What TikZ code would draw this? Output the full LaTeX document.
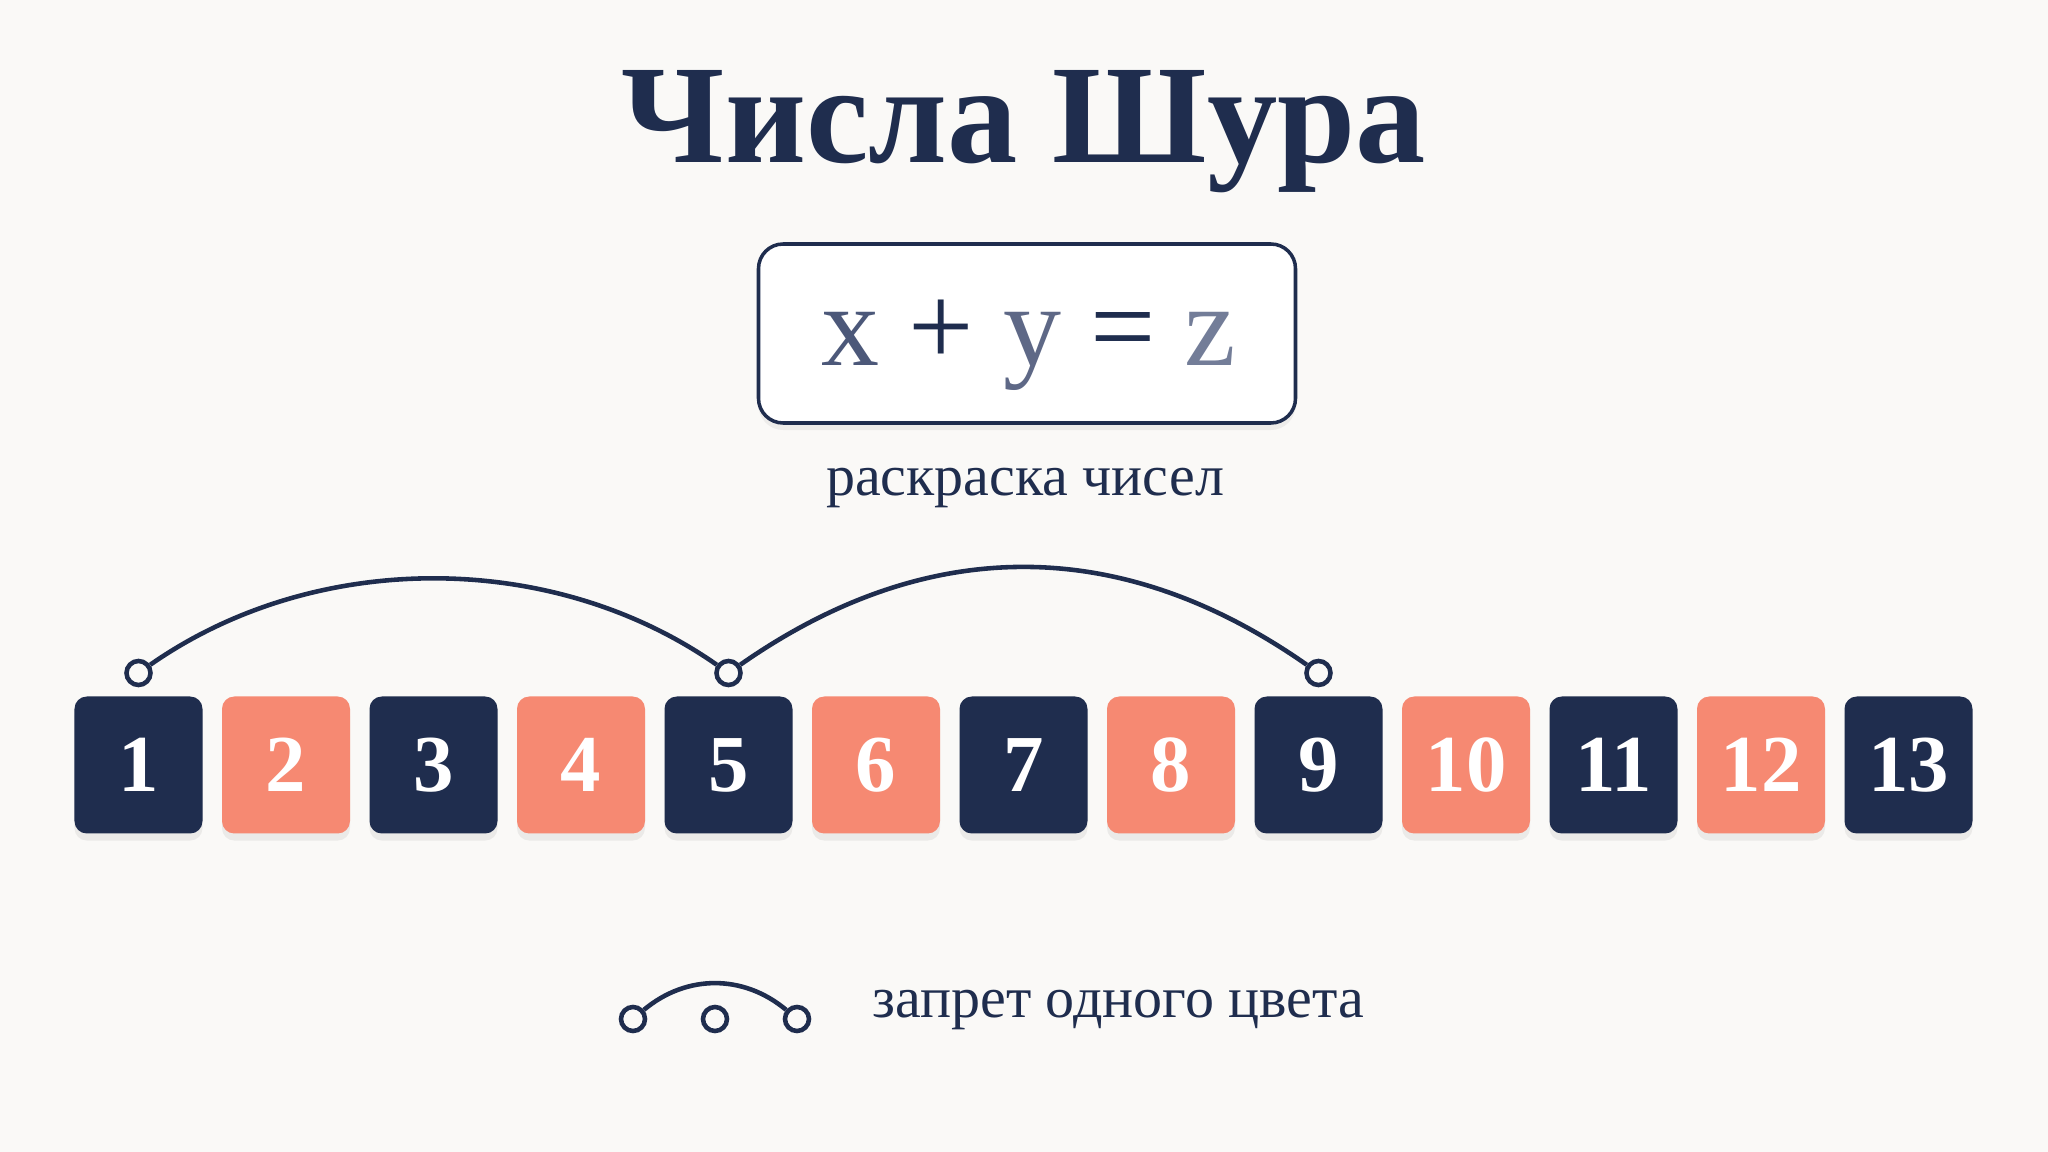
\documentclass[tikz,border=0pt]{standalone}
\usepackage{fontspec}
\setmainfont{Liberation Serif}
\usetikzlibrary{shadows}
\definecolor{navy}{HTML}{1F2D4E}
\definecolor{salmon}{HTML}{F68972}
\definecolor{paper}{HTML}{FAF9F7}
\definecolor{xcol}{HTML}{4C5879}
\definecolor{ycol}{HTML}{5E6886}
\definecolor{zcol}{HTML}{737D98}
\tikzstyle{TitleNode}=[anchor=base, text=navy, font=\fontsize{40}{40}\selectfont\bfseries]
\tikzstyle{EqBox}=[rectangle, draw=navy, line width=1pt, fill=white, rounded corners=7pt, minimum width=5.37cm, minimum height=1.79cm, drop shadow={shadow xshift=0pt, shadow yshift=-2pt, opacity=0.10}]
\tikzstyle{EqText}=[anchor=base, font=\fontsize{33}{33}\selectfont]
\tikzstyle{LabelText}=[text=navy, font=\fontsize{16.5}{16.5}\selectfont]
\tikzstyle{NumBox}=[rectangle, rounded corners=3.5pt, minimum width=1.28cm, minimum height=1.37cm, inner sep=0pt, text=white, font=\fontsize{23}{23}\selectfont\bfseries, drop shadow={shadow xshift=0pt, shadow yshift=-2pt, opacity=0.12}]
\tikzstyle{DarkBox}=[NumBox, fill=navy]
\tikzstyle{SalmonBox}=[NumBox, fill=salmon]
\tikzstyle{DotNode}=[circle, draw=navy, line width=1.3pt, fill=paper, minimum size=0.24cm, inner sep=0pt]
\tikzstyle{ForbidEdge}=[draw=navy, line width=1.3pt]
\begin{document}
\begin{tikzpicture}
\fill[paper] (0,0) rectangle (20.48,-11.52);
\useasboundingbox (0,0) rectangle (20.48,-11.52);

\node[TitleNode](TITLE) at (10.24,-1.63) {Числа Шура};
\node[EqBox](EQBOX) at (10.27,-3.335) {};
\node[EqText](EQ) at (10.29,-3.66) {\textcolor{xcol}{x} \textcolor{navy}{+} \textcolor{ycol}{y} \textcolor{navy}{=} \textcolor{zcol}{z}};
\node[LabelText, anchor=base](CAPTION) at (10.25,-4.96) {раскраска чисел};

\node[DarkBox](N1) at (1.385,-7.65) {1};
\node[SalmonBox](N2) at (2.86,-7.65) {2};
\node[DarkBox](N3) at (4.335,-7.65) {3};
\node[SalmonBox](N4) at (5.81,-7.65) {4};
\node[DarkBox](N5) at (7.285,-7.65) {5};
\node[SalmonBox](N6) at (8.76,-7.65) {6};
\node[DarkBox](N7) at (10.235,-7.65) {7};
\node[SalmonBox](N8) at (11.71,-7.65) {8};
\node[DarkBox](N9) at (13.185,-7.65) {9};
\node[SalmonBox](N10) at (14.66,-7.65) {10};
\node[DarkBox](N11) at (16.135,-7.65) {11};
\node[SalmonBox](N12) at (17.61,-7.65) {12};
\node[DarkBox](N13) at (19.085,-7.65) {13};

\node[DotNode](DOT1) at (1.385,-6.73) {};
\node[DotNode](DOT5) at (7.285,-6.73) {};
\node[DotNode](DOT9) at (13.185,-6.73) {};

\draw[ForbidEdge](DOT1) to[out=35, in=145, looseness=0.91] (DOT5);
\draw[ForbidEdge](DOT5) to[out=35, in=145, looseness=1.03] (DOT9);

\node[DotNode](KEY1) at (6.33,-10.19) {};
\node[DotNode](KEY2) at (7.15,-10.19) {};
\node[DotNode](KEY3) at (7.97,-10.19) {};
\draw[ForbidEdge](KEY1) to[out=40, in=140, looseness=1.0] (KEY3);
\node[LabelText, anchor=base west](KEYTEXT) at (8.60,-10.17) {запрет одного цвета};
\end{tikzpicture}
\end{document}
